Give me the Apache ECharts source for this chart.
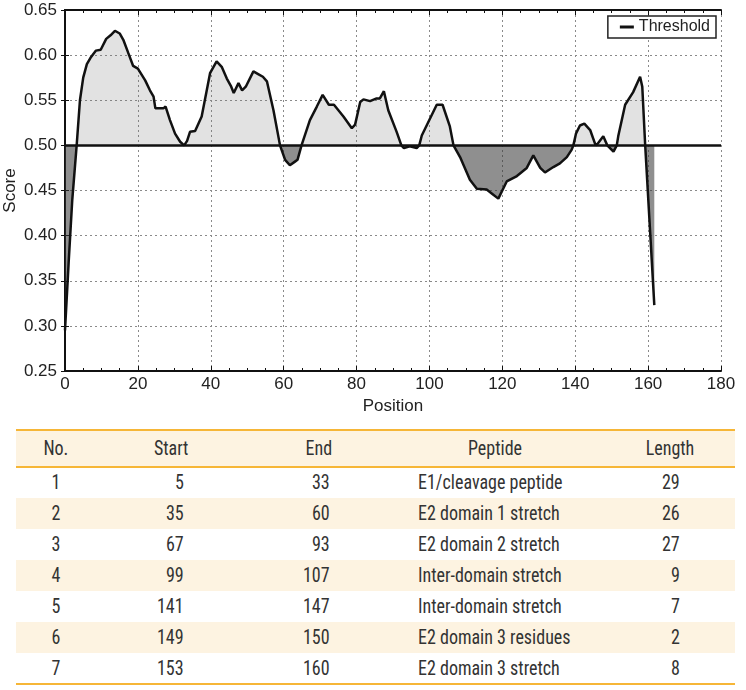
<!DOCTYPE html>
<html>
<head>
<meta charset="utf-8">
<script src="https://cdn.jsdelivr.net/npm/echarts@6/dist/echarts.min.js"></script>
<style>
  body { margin: 0; background: #fff; }
  #wrap { position: relative; width: 746px; height: 690px; }
  #chart { position: absolute; left: 0; top: 0; width: 746px; height: 420px; }
  .tbl { position: absolute; left: 16px; width: 719px; font-family: "Liberation Sans Narrow", "Roboto Condensed", Roboto, "Liberation Sans", sans-serif; font-size: 20px; color: #333; }
  .row { position: absolute; left: 0; width: 719px; }
  .cell { position: absolute; top: 0; white-space: nowrap; }
  .cell span { display: inline-block; transform: scaleX(0.9); }
  .line { position: absolute; left: 0; width: 719px; height: 2px; background: #f6b637; }
</style>
</head>
<body>
<div id="wrap">
  <div id="chart"></div>
  <div class="tbl" id="tbl"></div>
</div>
<script>
// score curve: [position, score]
var scorePoints = [
  [0,0.295],[1,0.37],[2,0.44],[3.2,0.50],[4.1,0.55],[5,0.575],[6,0.59],[7,0.597],[8.5,0.605],[9.8,0.606],
  [11.3,0.618],[12.5,0.622],[13.7,0.627],[15,0.624],[16,0.617],[17.3,0.603],[18.7,0.588],[20,0.585],[22,0.572],[23.3,0.561],
  [24.3,0.554],[24.8,0.541],[27,0.541],[27.6,0.543],[28.8,0.528],[30.2,0.513],[31.6,0.504],[32.7,0.500],[33.5,0.505],[34.3,0.515],
  [35.7,0.516],[37.5,0.532],[38.9,0.561],[39.8,0.580],[41.6,0.593],[43,0.587],[44.4,0.574],[45.5,0.566],[46.3,0.558],[47.6,0.569],
  [48.6,0.561],[49.6,0.565],[51.7,0.582],[53,0.579],[54.3,0.576],[55.4,0.571],[57.2,0.539],[59,0.50],[60.4,0.484],[61.7,0.478],
  [63.1,0.482],[63.8,0.484],[64.9,0.50],[67.2,0.528],[69.1,0.543],[70.7,0.556],[72.4,0.545],[73.8,0.545],[76.4,0.532],[78.7,0.519],
  [79.6,0.523],[81,0.548],[81.9,0.551],[83.7,0.549],[85.5,0.552],[86.4,0.552],[87.5,0.560],[88.7,0.539],[91,0.515],[92.3,0.50],
  [93,0.497],[94.6,0.499],[96.5,0.497],[97.2,0.50],[97.9,0.511],[100.2,0.530],[102,0.545],[103.6,0.545],[105.6,0.521],[106.6,0.50],
  [108.4,0.487],[111.1,0.462],[113,0.452],[115.7,0.451],[117,0.447],[118.9,0.441],[121.2,0.460],[124,0.466],[126.7,0.475],[128.5,0.489],
  [130.4,0.475],[131.7,0.470],[134,0.476],[135.8,0.480],[137.7,0.487],[139,0.495],[139.5,0.50],[140.2,0.513],[141.3,0.522],[142.5,0.524],
  [144.1,0.517],[145.6,0.50],[146.2,0.502],[147.7,0.510],[148.8,0.50],[149.2,0.499],[150.5,0.493],[151.4,0.50],[151.8,0.510],[153.7,0.545],
  [155.9,0.559],[157.8,0.576],[158.4,0.565],[159.2,0.50],[161.7,0.323]
];
var threshold = 0.5;
var xTicks = [0, 180, 20];      // min, max, step
var yTicks = [0.25, 0.65, 0.05];

// table
var colNo = [1, 2, 3, 4, 5, 6, 7];
var colStart = [5, 35, 67, 99, 141, 149, 153];
var colEnd = [33, 60, 93, 107, 147, 150, 160];
var colPeptide = ['E1/cleavage peptide', 'E2 domain 1 stretch', 'E2 domain 2 stretch', 'Inter-domain stretch', 'Inter-domain stretch', 'E2 domain 3 residues', 'E2 domain 3 stretch'];
var colLength = [29, 26, 27, 9, 7, 2, 8];
var headers = ['No.', 'Start', 'End', 'Peptide', 'Length'];

var above = scorePoints.map(function (p) { return [p[0], Math.max(p[1], threshold)]; });
var below = scorePoints.map(function (p) { return [p[0], Math.min(p[1], threshold)]; });

var chart = echarts.init(document.getElementById('chart'));
var frameAxis = { show: true, lineStyle: { color: '#111', width: 2 } };
var labelFont = 'Liberation Sans, Arial, sans-serif';
chart.setOption({
  animation: false,
  grid: { left: 65, right: 25, top: 10, bottom: 49, outerBoundsMode: 'none', containLabel: false },
  legend: {
    data: [{ name: 'Threshold', icon: 'rect' }],
    right: 30, top: 16,
    itemWidth: 14, itemHeight: 3,
    padding: [3, 6, 3, 12],
    borderColor: '#222', borderWidth: 1.5,
    backgroundColor: '#fff',
    textStyle: { fontFamily: labelFont, fontSize: 16, color: '#222' }
  },
  xAxis: [{
    type: 'value', min: xTicks[0], max: xTicks[1], interval: xTicks[2],
    name: 'Position', nameLocation: 'middle', nameGap: 26,
    nameTextStyle: { fontFamily: labelFont, fontSize: 17, color: '#222' },
    axisLine: frameAxis,
    axisTick: { inside: true, length: 5, lineStyle: { color: '#111' } },
    minorTick: { show: true, splitNumber: 4, length: 3, lineStyle: { color: '#111' } },
    axisLabel: { fontFamily: labelFont, fontSize: 17, color: '#222', margin: 5 },
    splitLine: { show: true, lineStyle: { color: '#8a8a8a', type: [2, 3], width: 1 } }
  }, {
    type: 'value', position: 'top', min: xTicks[0], max: xTicks[1], interval: xTicks[2],
    axisLine: frameAxis,
    axisTick: { inside: true, length: 5, lineStyle: { color: '#111' } },
    minorTick: { show: true, splitNumber: 4, length: 3, lineStyle: { color: '#111' } },
    axisLabel: { show: false }, splitLine: { show: false }
  }],
  yAxis: [{
    type: 'value', min: yTicks[0], max: yTicks[1], interval: yTicks[2],
    name: 'Score', nameLocation: 'middle', nameGap: 46, nameMoveOverlap: false,
    nameTextStyle: { fontFamily: labelFont, fontSize: 17, color: '#222' },
    axisLine: frameAxis,
    axisTick: { inside: true, length: 4, lineStyle: { color: '#111' } },
    axisLabel: { fontFamily: labelFont, fontSize: 17, color: '#222', margin: 8,
      formatter: function (v) { return v.toFixed(2); } },
    splitLine: { show: true, lineStyle: { color: '#8a8a8a', type: [2, 3], width: 1 } }
  }, {
    type: 'value', position: 'right', min: yTicks[0], max: yTicks[1], interval: yTicks[2],
    axisLine: frameAxis,
    axisTick: { inside: true, length: 4, lineStyle: { color: '#111' } },
    axisLabel: { show: false }, splitLine: { show: false }
  }],
  series: [
    { name: 'above', type: 'line', data: above, symbol: 'none', silent: true,
      lineStyle: { width: 0 }, areaStyle: { origin: threshold, color: 'rgba(120,120,120,0.3)' } },
    { name: 'below', type: 'line', data: below, symbol: 'none', silent: true,
      lineStyle: { width: 0 }, areaStyle: { origin: threshold, color: 'rgba(50,50,50,0.78)' } },
    { name: 'Score', type: 'line', data: scorePoints, symbol: 'none',
      lineStyle: { color: '#111', width: 2.5 } },
    { name: 'Threshold', type: 'line', data: [[xTicks[0], threshold], [xTicks[1], threshold]], symbol: 'none',
      itemStyle: { color: '#111' }, lineStyle: { color: '#111', width: 2.5 } }
  ]
});

// build the table
var tbl = document.getElementById('tbl');
var tableTop = 430, headH = 37, rowH = 31;
tbl.style.top = tableTop + 'px';
function addCell(row, text, x, align) {
  var c = document.createElement('div');
  c.className = 'cell';
  var s = document.createElement('span');
  s.textContent = text;
  c.appendChild(s);
  if (align === 'center') {
    c.style.left = (x - 100) + 'px'; c.style.width = '200px'; c.style.textAlign = 'center';
    s.style.transformOrigin = 'center';
  } else if (align === 'right') {
    c.style.left = (x - 200) + 'px'; c.style.width = '200px'; c.style.textAlign = 'right';
    s.style.transformOrigin = 'right';
  } else {
    c.style.left = x + 'px';
    s.style.transformOrigin = 'left';
  }
  row.appendChild(c);
}
function addRow(top, h, bg) {
  var r = document.createElement('div');
  r.className = 'row';
  r.style.top = top + 'px';
  r.style.height = h + 'px';
  r.style.lineHeight = h + 'px';
  if (bg) r.style.background = bg;
  tbl.appendChild(r);
  return r;
}
// header
var hr = addRow(0, headH, '#fdf3e1');
var headX = [40, 155, 303, 479, 654];
headers.forEach(function (h, i) { addCell(hr, h, headX[i], 'center'); });
for (var i = 0; i < colNo.length; i++) {
  var r = addRow(headH + i * rowH, rowH, i % 2 === 1 ? '#fdf3e1' : null);
  addCell(r, colNo[i], 40, 'center');
  addCell(r, colStart[i], 168, 'right');
  addCell(r, colEnd[i], 314, 'right');
  addCell(r, colPeptide[i], 402, 'left');
  addCell(r, colLength[i], 664, 'right');
}
[0, headH, headH + colNo.length * rowH].forEach(function (y) {
  var l = document.createElement('div');
  l.className = 'line';
  l.style.top = (y - 1) + 'px';
  tbl.appendChild(l);
});
</script>
</body>
</html>
